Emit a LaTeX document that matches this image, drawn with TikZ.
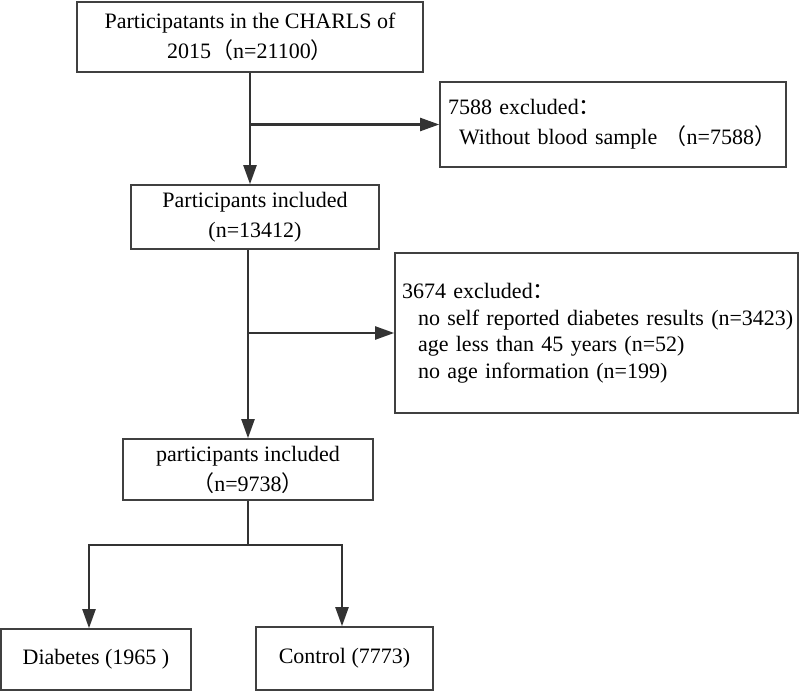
\documentclass[tikz,border=0pt]{standalone}
\usepackage{fontspec}
\setmainfont{Liberation Serif}
\newfontfamily\cjk{Noto Sans CJK SC}
\usetikzlibrary{arrows.meta}

% full-width brackets and colon as printed in the chart
\newcommand{\fwlp}{{\cjk （}}
\newcommand{\fwrp}{{\cjk ）}}
\newcommand{\fwcolon}{{\cjk ：}}

\definecolor{linegray}{HTML}{333333}
\definecolor{boxgray}{HTML}{404040}

\begin{document}
\begin{tikzpicture}[x=1pt, y=-1pt,
    box/.style={draw=boxgray, line width=1.6pt, inner sep=0pt,
        font=\fontsize{22}{30}\selectfont, align=center},
    notebox/.style={box, align=left, inner xsep=8pt},
    link/.style={draw=linegray, line width=2.2pt},
    flow/.style={link, -{Triangle[length=19pt, width=13pt]}}]

    % Fix the page to the size of the reference
    \useasboundingbox (0,0) rectangle (800,692);

    % Main column of boxes
    \node[box, minimum width=346, minimum height=70] (start) at (250,37)
        {Participatants in the CHARLS of\\2015\fwlp n=21100\fwrp};
    \node[box, minimum width=248, minimum height=64] (incl1) at (255,217)
        {Participants included\\(n=13412)};
    \node[box, minimum width=250, minimum height=61] (incl2) at (248,469.5)
        {participants included\\\fwlp n=9738\fwrp};

    % Exclusion boxes on the right
    \node[notebox, minimum width=346, minimum height=85, text width=330]
        (excl1) at (613,124.5)
        {7588 excluded\fwcolon\\\hspace*{11pt}Without blood sample \fwlp n=7588\fwrp};
    \node[notebox, minimum width=403, minimum height=160, text width=389,
        inner xsep=7pt, font=\fontsize{22}{26.5}\selectfont]
        (excl2) at (596.5,333)
        {3674 excluded\fwcolon\\
         \hspace*{16pt}\mbox{no self reported diabetes results (n=3423)}\\
         \hspace*{16pt}age less than 45 years (n=52)\\
         \hspace*{16pt}no age information (n=199)};

    % The two groups at the bottom
    \node[box, minimum width=190, minimum height=61] (diab) at (96,659.5)
        {Diabetes (1965 )};
    \node[box, minimum width=177, minimum height=63] (ctrl) at (344.5,658.5)
        {Control (7773)};

    % Split point and the two branch columns
    \coordinate (fork) at (248,545);
    \coordinate (forkL) at (89,545);
    \coordinate (forkR) at (342,545);

    % Connectors
    \draw[flow] (start.south) -- (start.south |- incl1.north);
    \draw[flow] (start.south |- excl1.west) -- (excl1.west);
    \draw[flow] (incl2.north |- incl1.south) -- (incl2.north);
    \draw[flow] (incl2.north |- excl2.west) -- (excl2.west);
    \draw[flow] (incl2.south) -- (fork) -- (forkL) -- (forkL |- diab.north);
    \draw[flow] (fork) -- (forkR) -- (forkR |- ctrl.north);

\end{tikzpicture}
\end{document}
